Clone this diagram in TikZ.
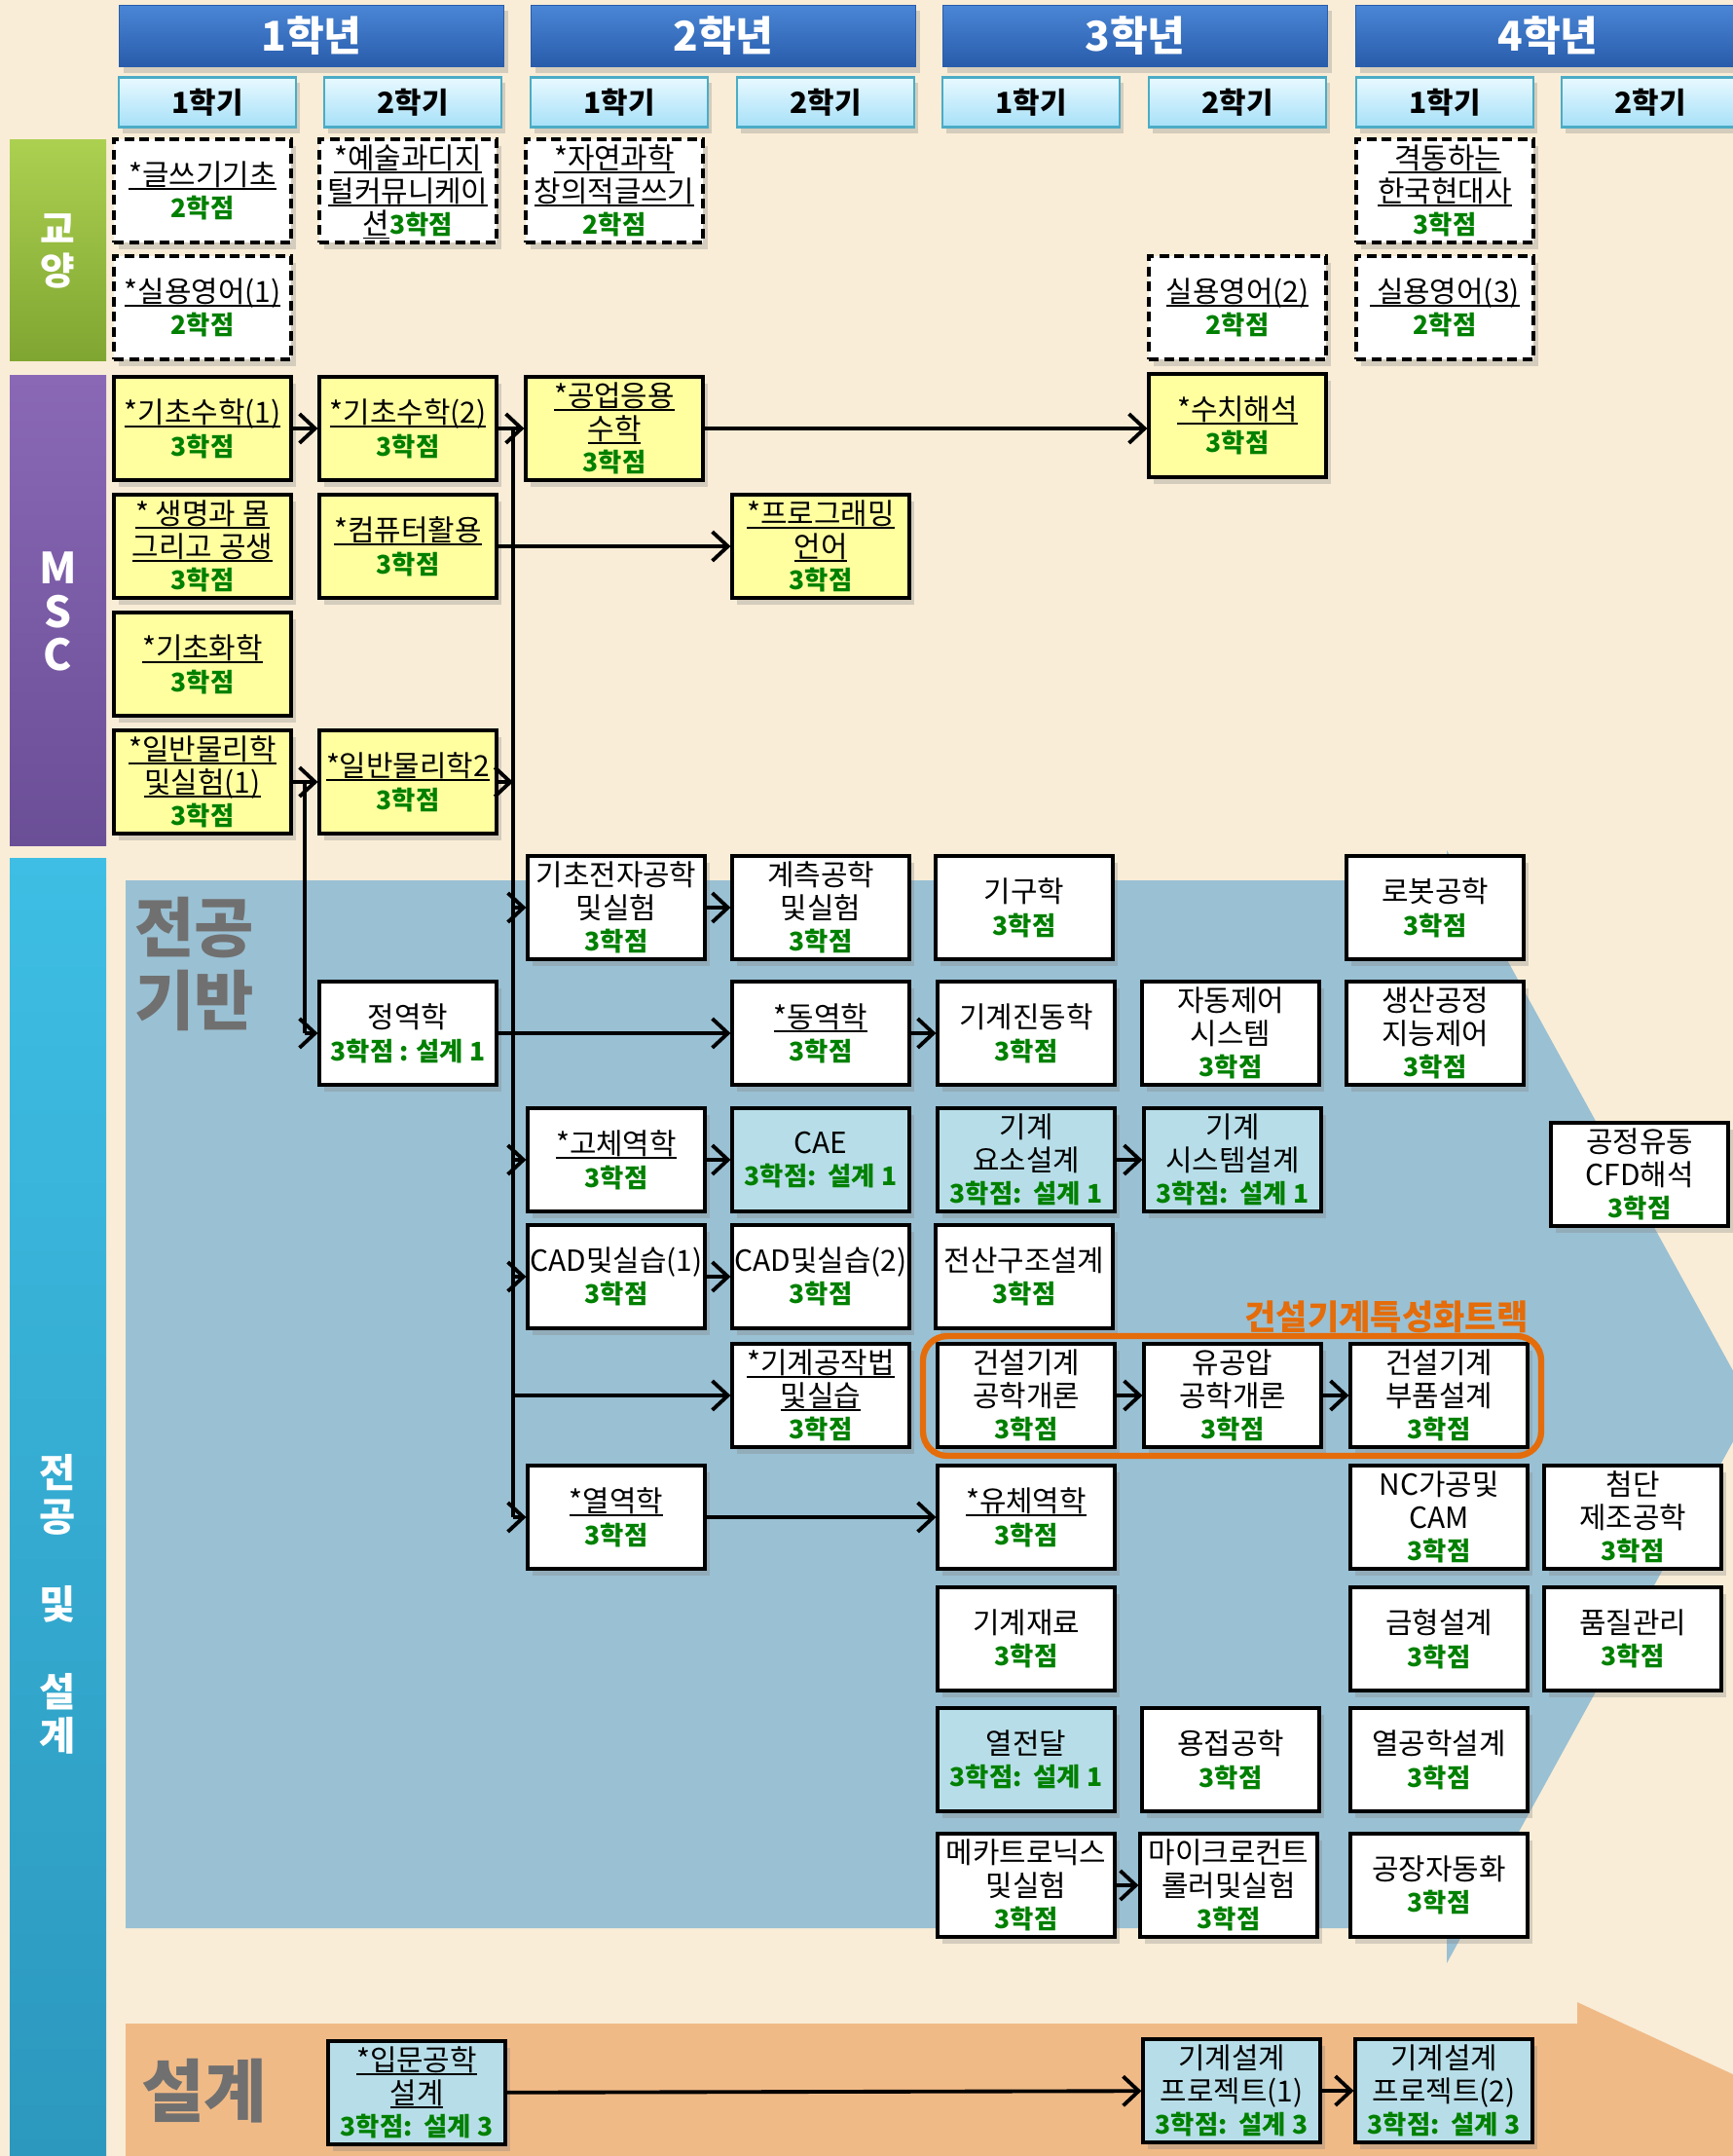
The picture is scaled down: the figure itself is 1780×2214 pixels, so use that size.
\documentclass[tikz,border=0pt]{standalone}
\usepackage{fontspec}
\setmainfont{Noto Sans CJK KR}
\usepackage{tikz}
\usetikzlibrary{arrows.meta,shadows}
\definecolor{paper}{RGB}{249,237,215}
\definecolor{basearea}{RGB}{154,192,211}
\definecolor{designarea}{RGB}{240,186,135}
\definecolor{mscyellow}{RGB}{255,255,160}
\definecolor{dsgnblue}{RGB}{183,222,232}
\definecolor{credgreen}{RGB}{0,128,0}
\definecolor{trackorange}{RGB}{228,108,10}
\definecolor{yeartop}{RGB}{74,134,214}
\definecolor{yearbot}{RGB}{40,92,170}
\definecolor{semtop}{RGB}{232,249,255}
\definecolor{sembot}{RGB}{166,224,248}
\definecolor{semline}{RGB}{75,172,198}
\definecolor{gentop}{RGB}{172,208,80}
\definecolor{genbot}{RGB}{128,166,50}
\definecolor{msctop}{RGB}{138,104,182}
\definecolor{mscbot}{RGB}{106,78,150}
\definecolor{majtop}{RGB}{62,190,228}
\definecolor{majbot}{RGB}{44,152,190}
\definecolor{engrave}{RGB}{112,112,112}

\newsavebox{\ulbox}
\newcommand{\hak}[1]{{\fontsize{7.5}{9}\selectfont\bfseries\color{credgreen}#1}}
\newcommand{\ult}[1]{\sbox{\ulbox}{#1}\leavevmode\rlap{\smash{\rule[-0.45mm]{\wd\ulbox}{0.45pt}}}\usebox{\ulbox}}

\tikzset{
  course/.style={draw=black,line width=0.9pt,minimum width=18.2mm,minimum height=10.6mm,
    inner sep=0pt,align=center,font=\fontsize{8.5}{9.6}\selectfont,
    drop shadow={opacity=0.3,shadow xshift=0.5mm,shadow yshift=-0.7mm}},
  gen/.style={course,fill=white,dash pattern=on 1mm off 0.55mm},
  msc/.style={course,fill=mscyellow},
  major/.style={course,fill=white},
  dsgn/.style={course,fill=dsgnblue},
  yearhd/.style={draw=yearbot,top color=yeartop,bottom color=yearbot,minimum width=39.5mm,
    minimum height=6.1mm,text=white,font=\fontsize{12}{12}\selectfont\bfseries,
    drop shadow={opacity=0.3,shadow xshift=0.4mm,shadow yshift=-0.6mm}},
  semhd/.style={draw=semline,line width=0.8pt,top color=semtop,bottom color=sembot,
    minimum width=18.2mm,minimum height=4.5mm,font=\fontsize{8.5}{9}\selectfont\bfseries,
    drop shadow={opacity=0.3,shadow xshift=0.4mm,shadow yshift=-0.6mm}},
  barlabel/.style={text=white,align=center,font=\fontsize{11.5}{12.8}\selectfont\bfseries},
  arealabel/.style={text=engrave,align=center,font=\fontsize{19}{21.3}\selectfont\bfseries},
  arr/.style={line width=1.1pt,-{Straight Barb[length=1.6mm,width=3mm]}},
  spineline/.style={line width=1.1pt}
}

\begin{document}
\begin{tikzpicture}[x=0.1mm,y=-0.1mm]
\useasboundingbox (0,0) rectangle (1780,2214);
\fill[paper] (0,0) rectangle (1780,2214);
\begin{scope}
\clip (0,0) rectangle (1780,2214);
% background arrows
\fill[basearea] (129,904) -- (1486,904) -- (1486,873) -- (1800,1444) -- (1486,2016) -- (1486,1980) -- (129,1980) -- cycle;
\fill[designarea] (129,2078) -- (1620,2078) -- (1620,2056) -- (2000,2232) -- (1620,2410) -- (129,2410) -- cycle;
\end{scope}

% side bars
\fill[top color=gentop,bottom color=genbot] (10,143) rectangle (109,370);
\fill[top color=msctop,bottom color=mscbot] (10,385) rectangle (109,868);
\fill[top color=majtop,bottom color=majbot] (10,881) rectangle (109,2214);
\node[barlabel,font=\fontsize{11}{12}\selectfont\bfseries] (gyl) at (59.5,258) {교\\양};
\node[barlabel,font=\fontsize{12.5}{12.6}\selectfont\bfseries] (mscl) at (59.5,628) {M\\S\\C};
\node[barlabel] (majl) at (59.5,1647) {전\\공\\[12.8pt]및\\[12.8pt]설\\계};
\node[arealabel] (basel) at (200,990) {전공\\기반};
\node[arealabel,font=\fontsize{20}{22}\selectfont\bfseries] (dsgnl) at (210,2147) {설계};

% years and semesters
\node[yearhd] (y1) at (320,37) {1학년};
\node[yearhd] (y2) at (743,37) {2학년};
\node[yearhd] (y3) at (1166,37) {3학년};
\node[yearhd] (y4) at (1590,37) {4학년};
\node[semhd] (s11) at (213,105) {1학기};
\node[semhd] (s12) at (424,105) {2학기};
\node[semhd] (s21) at (636,105) {1학기};
\node[semhd] (s22) at (848,105) {2학기};
\node[semhd] (s31) at (1059,105) {1학기};
\node[semhd] (s32) at (1271,105) {2학기};
\node[semhd] (s41) at (1484,105) {1학기};
\node[semhd] (s42) at (1695,105) {2학기};

% general education
\node[gen] (writing) at (208,196) {\ult{*글쓰기기초}\\\hak{2학점}};
\node[gen] (art) at (419,196) {\ult{*예술과디지}\\\ult{털커뮤니케이}\\\ult{션}\hak{3학점}};
\node[gen] (nat) at (631,196) {\ult{*자연과학}\\\ult{창의적글쓰기}\\\hak{2학점}};
\node[gen] (korhist) at (1484,196) {\ult{\ 격동하는}\\\ult{한국현대사}\\\hak{3학점}};
\node[gen] (eng1) at (208,316) {\ult{*실용영어(1)}\\\hak{2학점}};
\node[gen] (eng2) at (1271,316) {\ult{실용영어(2)}\\\hak{2학점}};
\node[gen] (eng3) at (1484,316) {\ult{\ 실용영어(3)}\\\hak{2학점}};

% MSC
\node[msc] (math1) at (208,440) {\ult{*기초수학(1)}\\\hak{3학점}};
\node[msc] (math2) at (419,440) {\ult{*기초수학(2)}\\\hak{3학점}};
\node[msc] (engmath) at (631,440) {\ult{*공업응용}\\\ult{수학}\\\hak{3학점}};
\node[msc] (numan) at (1271,437) {\ult{*수치해석}\\\hak{3학점}};
\node[msc] (life) at (208,561) {\ult{* 생명과 몸}\\\ult{그리고 공생}\\\hak{3학점}};
\node[msc] (comp) at (419,561) {\ult{*컴퓨터활용}\\\hak{3학점}};
\node[msc] (prog) at (843,561) {\ult{*프로그래밍}\\\ult{언어}\\\hak{3학점}};
\node[msc] (chem) at (208,682) {\ult{*기초화학}\\\hak{3학점}};
\node[msc] (phys1) at (208,803) {\ult{*일반물리학}\\\ult{및실험(1)}\\\hak{3학점}};
\node[msc] (phys2) at (419,803) {\ult{*일반물리학2}\\\hak{3학점}};

% major
\node[major] (elec) at (633,932) {기초전자공학\\및실험\\\hak{3학점}};
\node[major] (meas) at (843,932) {계측공학\\및실험\\\hak{3학점}};
\node[major] (kin) at (1052,932) {기구학\\\hak{3학점}};
\node[major] (robot) at (1474,932) {로봇공학\\\hak{3학점}};
\node[major] (statics) at (419,1061) {정역학\\\hak{3학점 : 설계 1}};
\node[major] (dyn) at (843,1061) {\ult{*동역학}\\\hak{3학점}};
\node[major] (vib) at (1054,1061) {기계진동학\\\hak{3학점}};
\node[major] (ctrl) at (1264,1061) {자동제어\\시스템\\\hak{3학점}};
\node[major] (prodctrl) at (1474,1061) {생산공정\\지능제어\\\hak{3학점}};
\node[major] (solid) at (633,1191) {\ult{*고체역학}\\\hak{3학점}};
\node[dsgn] (cae) at (843,1191) {CAE\\\hak{3학점:\ \ 설계 1}};
\node[dsgn] (elem) at (1054,1191) {기계\\요소설계\\\hak{3학점:\ \ 설계 1}};
\node[dsgn] (sys) at (1266,1191) {기계\\시스템설계\\\hak{3학점:\ \ 설계 1}};
\node[major] (cfd) at (1684,1206) {공정유동\\CFD해석\\\hak{3학점}};
\node[major] (cad1) at (633,1311) {CAD및실습(1)\\\hak{3학점}};
\node[major] (cad2) at (843,1311) {CAD및실습(2)\\\hak{3학점}};
\node[major] (fem) at (1052,1311) {전산구조설계\\\hak{3학점}};
\node[major] (mfg) at (843,1433) {\ult{*기계공작법}\\\ult{및실습}\\\hak{3학점}};
\node[major] (cmintro) at (1054,1433) {건설기계\\공학개론\\\hak{3학점}};
\node[major] (hyd) at (1266,1433) {유공압\\공학개론\\\hak{3학점}};
\node[major] (cmpart) at (1478,1433) {건설기계\\부품설계\\\hak{3학점}};
\node[major] (thermo) at (633,1558) {\ult{*열역학}\\\hak{3학점}};
\node[major] (fluid) at (1054,1558) {\ult{*유체역학}\\\hak{3학점}};
\node[major] (nccam) at (1478,1558) {NC가공및\\CAM\\\hak{3학점}};
\node[major] (advmfg) at (1677,1558) {첨단\\제조공학\\\hak{3학점}};
\node[major] (mat) at (1054,1683) {기계재료\\\hak{3학점}};
\node[major] (mold) at (1478,1683) {금형설계\\\hak{3학점}};
\node[major] (qc) at (1677,1683) {품질관리\\\hak{3학점}};
\node[dsgn] (heat) at (1054,1807) {열전달\\\hak{3학점:\ \ 설계 1}};
\node[major] (weld) at (1264,1807) {용접공학\\\hak{3학점}};
\node[major] (thdes) at (1478,1807) {열공학설계\\\hak{3학점}};
\node[major] (mech) at (1054,1936) {메카트로닉스\\및실험\\\hak{3학점}};
\node[major] (micro) at (1262,1936) {마이크로컨트\\롤러및실험\\\hak{3학점}};
\node[major] (fa) at (1478,1936) {공장자동화\\\hak{3학점}};

% track
\draw[trackorange,line width=1.8pt,rounded corners=2.5mm] (948,1372) rectangle (1583,1495);
\node[text=trackorange,font=\fontsize{10}{10}\selectfont\bfseries,anchor=east] (track) at (1582,1352) {건설기계특성화트랙};

% design
\node[dsgn] (intro) at (428,2149) {\ult{*입문공학}\\\ult{설계}\\\hak{3학점:\ \ 설계 3}};
\node[dsgn] (proj1) at (1265,2147) {기계설계\\프로젝트(1)\\\hak{3학점:\ \ 설계 3}};
\node[dsgn] (proj2) at (1483,2147) {기계설계\\프로젝트(2)\\\hak{3학점:\ \ 설계 3}};

% connectors
\coordinate (spine) at (527,0);
\coordinate (spinetwo) at (313,0);
\draw[arr] (math1) -- (math2);
\draw[arr] (math2) -- (engmath);
\draw[spineline] (math2.east -| spine) -- (thermo.west -| spine);
\draw[arr] (engmath.east) -- (engmath.east -| numan.west);
\draw[arr] (comp) -- (prog);
\draw[arr] (phys1) -- (phys2);
\draw[arr] (phys2.east) -- (phys2.east -| spine);
\draw[spineline] (phys1.east -| spinetwo) -- (statics.west -| spinetwo);
\draw[arr] (statics.west -| spinetwo) -- (statics.west);
\draw[arr] (elec.west -| spine) -- (elec.west);
\draw[arr] (elec) -- (meas);
\draw[arr] (statics) -- (dyn);
\draw[arr] (dyn) -- (vib);
\draw[arr] (solid.west -| spine) -- (solid.west);
\draw[arr] (solid) -- (cae);
\draw[arr] (elem) -- (sys);
\draw[arr] (cad1.west -| spine) -- (cad1.west);
\draw[arr] (cad1) -- (cad2);
\draw[arr] (mfg.west -| spine) -- (mfg.west);
\draw[arr] (cmintro) -- (hyd);
\draw[arr] (hyd) -- (cmpart);
\draw[arr] (thermo.west -| spine) -- (thermo.west);
\draw[arr] (thermo) -- (fluid);
\draw[arr] (mech) -- (micro);
\draw[arr] (intro) -- (proj1);
\draw[arr] (proj1) -- (proj2);
\end{tikzpicture}
\end{document}
